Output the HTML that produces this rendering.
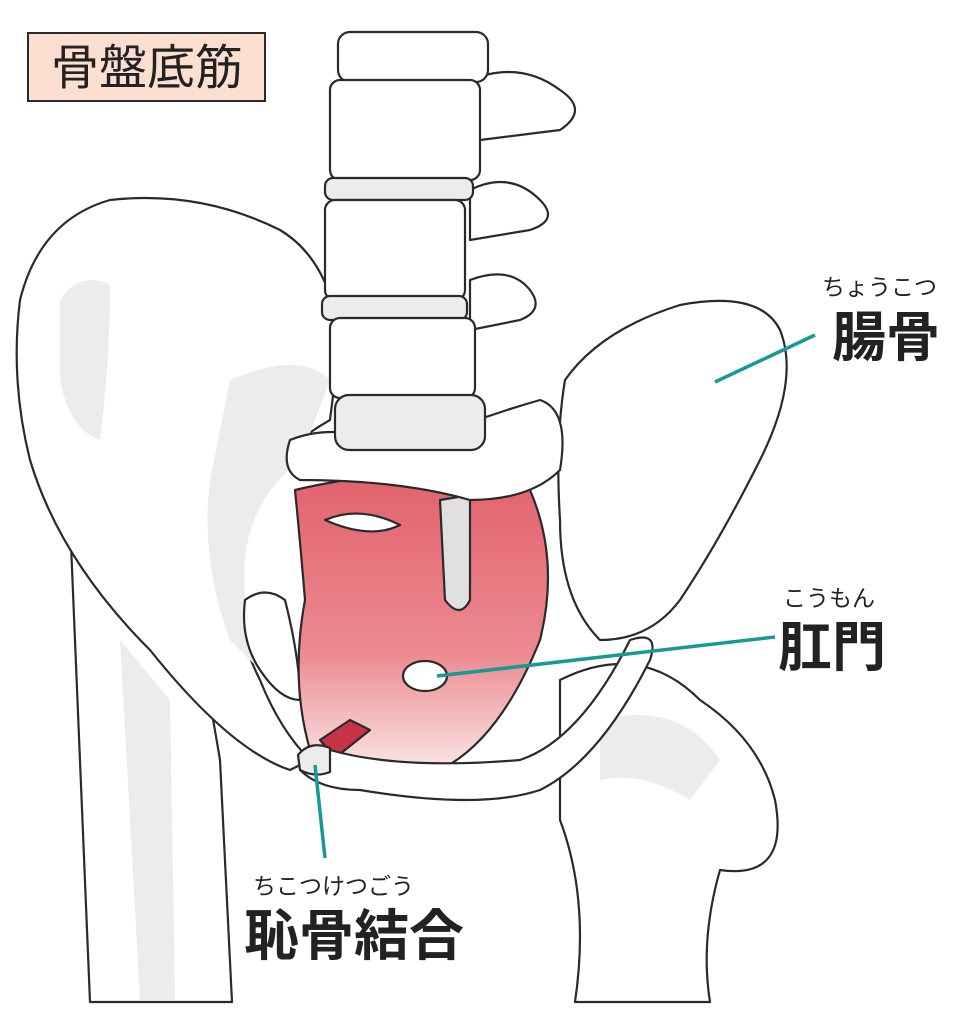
<!DOCTYPE html>
<html><head><meta charset="utf-8"><style>
html,body{margin:0;padding:0;background:#fff;}
svg{display:block}
text{font-family:"Liberation Sans","Noto Sans CJK JP",sans-serif;}
</style></head><body>
<svg width="971" height="1024" viewBox="0 0 971 1024" xmlns="http://www.w3.org/2000/svg">
<defs>
<linearGradient id="m" x1="0" y1="0" x2="0" y2="1">
<stop offset="0" stop-color="#e2626c"/><stop offset="0.6" stop-color="#ec8a90"/><stop offset="1" stop-color="#fbe8e8"/>
</linearGradient>
</defs>
<g stroke="#2a2a2a" stroke-width="2.2" stroke-linejoin="round">
<path d="M70 520 L90 1002 L232 1002 L220 760 Q200 640 180 560 Z" fill="#fff"/>
<path d="M120 640 L140 1000 L175 1000 L170 700 Z" fill="#ececec" stroke="none"/>
<path d="M560 680 Q640 640 700 700 Q760 740 775 800 Q790 880 720 870 Q700 940 710 1002 L575 1002 Q590 900 560 820 Z" fill="#fff"/>
<path d="M600 720 Q680 700 720 760 L690 800 Q640 770 600 780 Z" fill="#ececec" stroke="none"/>
<path d="M20 300 Q40 220 110 200 Q200 190 280 230 Q330 260 340 340 L330 420 Q260 460 240 520 Q220 600 260 680 Q280 730 310 760 L290 770 Q230 750 150 650 Q60 560 30 460 Q10 380 20 300 Z" fill="#fff"/>
<path d="M60 300 Q80 270 110 285 Q110 360 100 440 Q70 430 60 380 Z" fill="#ececec" stroke="none"/>
<path d="M230 380 Q300 350 330 380 L300 460 Q250 500 245 560 Q240 620 270 680 L230 640 Q200 560 210 480 Z" fill="#ececec" stroke="none"/>
<path d="M245 600 Q265 585 285 600 Q300 660 300 700 Q280 700 260 670 Q240 640 245 600 Z" fill="#fff"/>
<path d="M295 490 Q420 460 530 490 Q560 560 540 640 Q500 740 440 770 Q370 780 310 750 Q290 680 305 600 Q300 540 295 490 Z" fill="url(#m)"/>
<path d="M440 500 L470 495 L470 600 Q460 620 445 600 Z" fill="#e0e0e0"/>
<ellipse cx="425" cy="676" rx="22" ry="15" fill="#fff"/>
<path d="M325 520 Q360 505 400 525 Q370 540 325 520 Z" fill="#fff"/>
<path d="M320 740 L350 720 L370 730 L335 758 Z" fill="#c73448"/>
<path d="M430 770 Q460 760 500 770 Q470 780 430 770 Z" fill="#d44a5a"/>
<path d="M300 760 Q310 740 330 750 Q400 770 520 760 Q580 740 630 640 Q660 630 650 660 Q600 760 540 790 Q480 810 360 790 Q320 790 300 770 Z" fill="#fff"/>
<path d="M298 755 Q310 740 330 748 L330 772 Q315 778 300 770 Z" fill="#ececec"/>
<path d="M565 380 Q600 330 680 305 Q760 290 780 330 Q800 380 760 460 Q720 540 680 600 Q650 640 600 640 Q560 600 560 520 Q555 440 565 380 Z" fill="#fff"/>
<path d="M290 440 Q340 420 400 450 Q470 420 540 400 Q570 410 560 470 Q530 500 470 500 Q400 480 300 480 Q280 470 290 440 Z" fill="#fff"/>
<path d="M470 80 Q520 60 560 90 Q590 110 560 130 L480 140 Z" fill="#fff"/>
<path d="M470 190 Q510 170 540 200 Q560 220 530 230 L470 240 Z" fill="#fff"/>
<path d="M470 280 Q510 265 530 290 Q545 310 520 320 L470 330 Z" fill="#fff"/>
<rect x="338" y="32" width="150" height="50" rx="12" fill="#fff"/>
<rect x="330" y="80" width="150" height="100" rx="10" fill="#fff"/>
<rect x="325" y="178" width="148" height="22" rx="8" fill="#ececec"/>
<rect x="325" y="200" width="140" height="100" rx="10" fill="#fff"/>
<rect x="322" y="296" width="145" height="24" rx="8" fill="#ececec"/>
<rect x="330" y="318" width="145" height="80" rx="10" fill="#fff"/>
<rect x="335" y="395" width="150" height="55" rx="14" fill="#ececec"/>
</g>
<rect x="28" y="33" width="237" height="68" fill="#fcdfd0" stroke="#2a2a2a" stroke-width="2"/>
<text x="147" y="84" font-size="48" text-anchor="middle" fill="#222">骨盤底筋</text>
<g stroke="#159a95" stroke-width="3.5" fill="none">
<line x1="715" y1="382" x2="815" y2="335"/>
<line x1="437" y1="676" x2="775" y2="637"/>
<line x1="315" y1="765" x2="325" y2="858"/>
</g>
<text x="822" y="295" font-size="23" fill="#222">ちょうこつ</text>
<text x="832" y="356" font-size="54" font-weight="bold" fill="#222">腸骨</text>
<text x="783" y="606" font-size="23" fill="#222">こうもん</text>
<text x="778" y="666" font-size="54" font-weight="bold" fill="#222">肛門</text>
<text x="253" y="894" font-size="23" fill="#222">ちこつけつごう</text>
<text x="244" y="955" font-size="55" font-weight="bold" fill="#222">恥骨結合</text>
</svg>
</body></html>
